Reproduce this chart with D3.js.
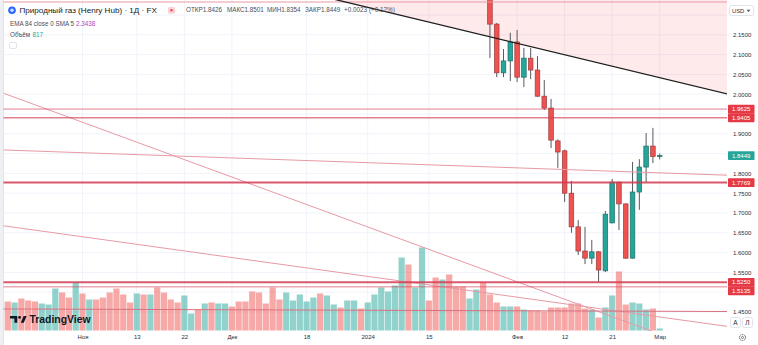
<!DOCTYPE html>
<html><head><meta charset="utf-8">
<script src="https://cdn.jsdelivr.net/npm/d3@7"></script>
<style>
html,body{margin:0;padding:0;background:#fff;}
svg{display:block;font-family:"Liberation Sans",Arial,sans-serif;}
</style></head><body>
<svg id="chart" width="758" height="345"></svg>
<script>
// ---------- DATA ----------
const dates = [
"2023-10-17","2023-10-18","2023-10-19","2023-10-20","2023-10-23","2023-10-24","2023-10-25","2023-10-26","2023-10-27","2023-10-30","2023-10-31",
"2023-11-01","2023-11-02","2023-11-03","2023-11-06","2023-11-07","2023-11-08","2023-11-09","2023-11-10","2023-11-13","2023-11-14","2023-11-15","2023-11-16","2023-11-17","2023-11-20","2023-11-21","2023-11-22","2023-11-23","2023-11-24","2023-11-27","2023-11-28","2023-11-29","2023-11-30",
"2023-12-01","2023-12-04","2023-12-05","2023-12-06","2023-12-07","2023-12-08","2023-12-11","2023-12-12","2023-12-13","2023-12-14","2023-12-15","2023-12-18","2023-12-19","2023-12-20","2023-12-21","2023-12-22","2023-12-26","2023-12-27","2023-12-28","2023-12-29",
"2024-01-02","2024-01-03","2024-01-04","2024-01-05","2024-01-08","2024-01-09","2024-01-10","2024-01-11","2024-01-12","2024-01-15","2024-01-16","2024-01-17","2024-01-18","2024-01-19","2024-01-22","2024-01-23","2024-01-24","2024-01-25","2024-01-26","2024-01-29","2024-01-30","2024-01-31",
"2024-02-01","2024-02-02","2024-02-05","2024-02-06","2024-02-07","2024-02-08","2024-02-09","2024-02-12","2024-02-13","2024-02-14","2024-02-15","2024-02-16","2024-02-19","2024-02-20","2024-02-21","2024-02-22","2024-02-23","2024-02-26","2024-02-27","2024-02-28","2024-02-29",
"2024-03-01"];

const volume = [
11600,11200,12800,12000,11600,10800,10400,16800,15200,13200,19200,
14800,12400,12400,13200,15200,16800,14400,11200,14800,14400,14400,17200,15200,12400,11200,14000,6800,8400,10800,11200,10800,10800,
9600,11600,11600,15600,15200,10800,17200,12400,15200,12000,14400,11600,13200,14800,14000,10400,9200,12000,12000,8800,
11200,14400,17200,15600,18000,29200,26400,17200,33200,12000,21200,20400,22400,17600,17600,12800,16400,19200,14400,11200,9600,9600,
9600,8400,8000,8000,7600,9200,9200,9200,10800,10800,8800,8400,5200,9200,14000,23600,10400,11200,10800,8400,8800,
817];

const volumeUp = [
0,1,0,0,0,1,1,1,0,0,1,
0,1,0,0,0,0,0,0,1,0,1,0,0,0,0,1,1,0,1,0,1,1,
0,0,0,0,0,0,0,0,1,1,1,1,1,0,1,1,0,1,1,0,
1,1,1,1,1,1,0,1,1,0,0,1,0,0,0,1,1,0,0,0,1,1,
0,1,0,0,0,0,0,0,0,0,0,1,0,1,1,0,0,1,1,1,0,
1];

const candleDates = ["2024-01-26","2024-01-29","2024-01-30","2024-01-31","2024-02-01","2024-02-02","2024-02-05","2024-02-06","2024-02-07","2024-02-08","2024-02-09","2024-02-12","2024-02-13","2024-02-14","2024-02-15","2024-02-16","2024-02-19","2024-02-20","2024-02-21","2024-02-22","2024-02-23","2024-02-26","2024-02-27","2024-02-28","2024-02-29","2024-03-01"];
const openP  = [2.320,2.177,2.054,2.084,2.132,2.043,2.091,2.061,1.995,1.965,1.882,1.857,1.750,1.665,1.604,1.586,1.602,1.554,1.675,1.778,1.723,1.586,1.753,1.816,1.869,1.8426];
const highP  = [2.360,2.180,2.114,2.155,2.162,2.117,2.117,2.096,2.036,1.988,1.886,1.860,1.781,1.682,1.665,1.632,1.604,1.705,1.786,1.779,1.724,1.829,1.836,1.902,1.915,1.8501];
const lowP   = [2.091,2.043,2.043,2.033,2.031,2.018,2.038,1.993,1.960,1.864,1.814,1.728,1.650,1.594,1.571,1.571,1.526,1.551,1.674,1.657,1.584,1.585,1.708,1.778,1.826,1.8354];
const closeP = [2.177,2.054,2.084,2.132,2.043,2.091,2.061,1.995,1.965,1.884,1.854,1.750,1.665,1.604,1.586,1.602,1.556,1.697,1.778,1.723,1.586,1.753,1.816,1.869,1.8426,1.8449];

const levelPrices = [1.9625, 1.9405, 1.7769, 1.5250, 1.5135];
const lastPrice = 1.8449;

const priceTicks = [2.15,2.10,2.05,2.00,1.90,1.80,1.75,1.70,1.65,1.60,1.55,1.45];
const timeTickDates = ["2023-11-01","2023-11-13","2023-11-22","2023-12-01","2023-12-18","2024-01-02","2024-01-15","2024-02-01","2024-02-12","2024-02-21","2024-03-01"];
const timeTickLabels = ["Ноя","13","22","Дек","18","2024","15","Фев","12","21","Мар"];

// drawings: [barIndex, price] anchor pairs
const trendBlack = [[40, 2.273], [110, 1.984]];
const trendA = [[-2, 2.011], [100, 1.369]];
const trendB = [[-2, 1.671], [110, 1.404]];
const trendC = [[-2, 1.860], [110, 1.793]];
const trendD = [[-2, 1.4577], [110, 1.4510]];
const topLinePrice = 2.2328;

const legendOHLC = [["ОТКР","1.8426"],["МАКС","1.8501"],["МИН","1.8354"],["ЗАКР","1.8449"],["","+0.0023"],["","(+0.12%)"]];

// ---------- LAYOUT ----------
const plotRight = 727, plotBottom = 331;
const svg = d3.select("#chart");
const idx = new Map(dates.map((d,i)=>[d,i]));
const x = d3.scaleLinear().domain([0, dates.length-1]).range([7.8, 659.7]);
const y = d3.scaleLinear().domain([1.45, 2.15]).range([312, 34.8]);
const yVol = d3.scaleLinear().domain([0, 40000]).range([330.5, 230.5]);

const UP = "#26a69a", DN = "#ef5350";
const UPV = "rgba(38,166,154,0.5)", DNV = "rgba(239,83,80,0.5)";

svg.append("defs").append("clipPath").attr("id","plot")
  .append("rect").attr("x",3.5).attr("y",0).attr("width",plotRight-3.5).attr("height",plotBottom);

svg.append("rect").attr("x",0).attr("y",0).attr("width",3).attr("height",345).attr("fill","#eef0f3");
svg.append("line").attr("x1",3.5).attr("x2",3.5).attr("y1",0).attr("y2",345).attr("stroke","#dfe2e8");

const plot = svg.append("g").attr("clip-path","url(#plot)");

// grid
const gridPrices = d3.range(29,46).map(k=>k*0.05);
plot.append("g").selectAll("line").data(gridPrices).join("line")
  .attr("x1",0).attr("x2",plotRight).attr("y1",d=>y(d)).attr("y2",d=>y(d))
  .attr("stroke","#f0f3fa").attr("stroke-width",1);
plot.append("g").selectAll("line").data(timeTickDates).join("line")
  .attr("x1",d=>x(idx.get(d))).attr("x2",d=>x(idx.get(d))).attr("y1",0).attr("y2",plotBottom)
  .attr("stroke","#f0f3fa").attr("stroke-width",1);

// shaded region above black trend line
const topP = y.invert(-10);
const pt = p => [x(p[0]), y(p[1])];
plot.append("path")
  .attr("d", d3.line()([pt(trendBlack[0]), pt(trendBlack[1]), pt([trendBlack[1][0], topP]), pt([trendBlack[0][0], topP])]) + "Z")
  .attr("fill","rgba(242,54,69,0.11)");

// volume
const bw = 6.2;
plot.append("g").selectAll("rect").data(volume).join("rect")
  .attr("x",(d,i)=>x(i)-bw/2).attr("width",bw)
  .attr("y",d=>yVol(d)).attr("height",d=>yVol(0)-yVol(d))
  .attr("fill",(d,i)=>volumeUp[i]?UPV:DNV);

// candles
const cw = 4.6;
const cg = plot.append("g");
candleDates.forEach((d,k)=>{
  const cx = x(idx.get(d));
  const up = closeP[k] >= openP[k];
  cg.append("line").attr("x1",cx).attr("x2",cx).attr("y1",y(highP[k])).attr("y2",y(lowP[k]))
    .attr("stroke","#555a60").attr("stroke-width",1);
  const y1 = y(Math.max(openP[k],closeP[k])), y2 = y(Math.min(openP[k],closeP[k]));
  cg.append("rect").attr("x",cx-cw/2).attr("width",cw).attr("y",y1).attr("height",Math.max(1,y2-y1))
    .attr("fill",up?UP:DN).attr("stroke",up?"#1f6f66":"#9c3a3e").attr("stroke-width",0.7);
});

// drawings
const seg = (p, color, w) => plot.append("line")
  .attr("x1",x(p[0][0])).attr("y1",y(p[0][1])).attr("x2",x(p[1][0])).attr("y2",y(p[1][1]))
  .attr("stroke",color).attr("stroke-width",w);
seg(trendA, "#e79aa4", 1);
seg(trendB, "#e79aa4", 1);
seg(trendC, "#e79aa4", 1);
seg(trendD, "#d9707f", 1);
plot.append("line").attr("x1",0).attr("x2",plotRight).attr("y1",y(topLinePrice)).attr("y2",y(topLinePrice))
  .attr("stroke","#e79aa4").attr("stroke-width",1);
seg(trendBlack, "#1e1e1e", 1.3);

const levelWidth = [1, 1.3, 2, 2, 1];
plot.append("g").selectAll("line").data(levelPrices).join("line")
  .attr("x1",0).attr("x2",plotRight).attr("y1",d=>y(d)).attr("y2",d=>y(d))
  .attr("stroke","#d23c52").attr("stroke-opacity",(d,i)=>levelWidth[i]>1.5?0.85:0.65)
  .attr("stroke-width",(d,i)=>levelWidth[i]);

// ---------- AXES ----------
const yAxis = svg.append("g").attr("transform",`translate(${plotRight},0)`)
  .call(d3.axisRight(y).tickValues(priceTicks).tickFormat(d3.format(".4f")).tickSize(0).tickPadding(6));
yAxis.select(".domain").remove();
yAxis.selectAll("text").attr("font-size",6).attr("fill","#2a2e39").attr("font-family","Liberation Sans, Arial, sans-serif");

const xAxis = svg.append("g").attr("transform",`translate(0,${plotBottom})`)
  .call(d3.axisBottom(x).tickValues(timeTickDates.map(d=>idx.get(d))).tickFormat((d,i)=>timeTickLabels[i]).tickSize(0).tickPadding(4));
xAxis.select(".domain").remove();
xAxis.selectAll("text").attr("font-size",6).attr("fill","#2a2e39").attr("font-family","Liberation Sans, Arial, sans-serif");

// price labels
const labels = levelPrices.map(p=>({p, y:y(p), c:"#e53945"})).concat([{p:lastPrice, y:y(lastPrice), c:"#26a69a"}])
  .sort((a,b)=>a.y-b.y);
for (let i=1;i<labels.length;i++) if (labels[i].y - labels[i-1].y < 8.5) labels[i].y = labels[i-1].y + 8.5;
const lg = svg.append("g");
labels.forEach(l=>{
  lg.append("rect").attr("x",728).attr("y",l.y-4.4).attr("width",26.5).attr("height",8.8).attr("fill",l.c).attr("rx",0.8);
  lg.append("text").attr("x",741.2).attr("y",l.y+2.1).attr("text-anchor","middle").attr("font-size",6)
    .attr("fill","#fff").text(d3.format(".4f")(l.p));
});

// USD box
svg.append("rect").attr("x",729.5).attr("y",5.5).attr("width",24).attr("height",10).attr("rx",2)
  .attr("fill","#fff").attr("stroke","#e0e3eb");
svg.append("text").attr("x",732).attr("y",12.6).attr("font-size",5.8).attr("fill","#2a2e39").text("USD");
svg.append("path").attr("d","M746.5,9.8 L750.5,9.8 L748.5,12 Z").attr("fill","#555");

// A / Л buttons
[["A",730.5],["Л",742.5]].forEach(([t,bx])=>{
  svg.append("rect").attr("x",bx).attr("y",317.5).attr("width",10).attr("height",10).attr("rx",2)
    .attr("fill","#fff").attr("stroke","#e0e3eb");
  svg.append("text").attr("x",bx+5).attr("y",325).attr("text-anchor","middle").attr("font-size",6.5).attr("fill","#2a2e39").text(t);
});
// gear
svg.append("circle").attr("cx",742.5).attr("cy",337.5).attr("r",3).attr("fill","none").attr("stroke","#555").attr("stroke-width",1).attr("stroke-dasharray","1.2,0.7");
svg.append("circle").attr("cx",742.5).attr("cy",337.5).attr("r",1.1).attr("fill","none").attr("stroke","#555").attr("stroke-width",0.7);

// ---------- LEGEND ----------
svg.append("circle").attr("cx",12).attr("cy",10.2).attr("r",3.8).attr("fill","#2962ff");
svg.append("circle").attr("cx",12).attr("cy",10.2).attr("r",1.8).attr("fill","#cfe0ff");
svg.append("text").attr("x",19.5).attr("y",13.2).attr("font-size",8.1).attr("fill","#131722")
  .text("Природный газ (Henry Hub) · 1Д · FX");
svg.append("rect").attr("x",168).attr("y",6.8).attr("width",7).attr("height",7).attr("rx",1.5).attr("fill","#fbd3d8");
svg.append("circle").attr("cx",171.5).attr("cy",10.3).attr("r",1.3).attr("fill","#ef5350");

const ohlcX = [186, 227, 267, 305, 344, 369];
legendOHLC.forEach(([lab,val],i)=>{
  const t = svg.append("text").attr("x",ohlcX[i]).attr("y",12.4).attr("font-size",6.3).attr("fill","#4a4e59");
  if (lab) t.append("tspan").text(lab);
  t.append("tspan").text(val);
});
const r2 = svg.append("text").attr("x",10).attr("y",25.6).attr("font-size",6.3).attr("fill","#4a4e59");
r2.append("tspan").text("EMA 84 close 0 SMA 5");
r2.append("tspan").attr("x",76).attr("fill","#ab47bc").text("2.3438");
const r3 = svg.append("text").attr("x",10).attr("y",36.6).attr("font-size",6.3).attr("fill","#4a4e59");
r3.append("tspan").text("Объём");
r3.append("tspan").attr("x",32.5).attr("fill","#26a69a").text(volume[volume.length-1]);
svg.append("rect").attr("x",9.5).attr("y",42.5).attr("width",7).attr("height",6).attr("rx",1.5).attr("fill","#fff").attr("stroke","#e0e3eb");

// TradingView logo
const logo = svg.append("g").attr("fill","#131722");
logo.append("path").attr("d","M10,316 H17.3 V322.8 H14.4 V318.6 H10 Z");
logo.append("circle").attr("cx",19.6).attr("cy",317.4).attr("r",1.4);
logo.append("path").attr("d","M20.8,322.8 L23.6,316 H26.6 L23.8,322.8 Z");
logo.append("text").attr("x",29.5).attr("y",322.8).attr("font-size",10.4).attr("font-weight","bold").text("TradingView");
</script>
</body></html>
